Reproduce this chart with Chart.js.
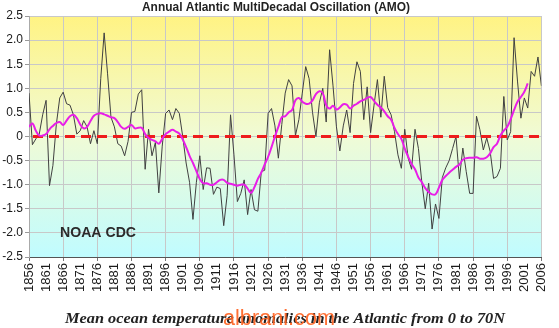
<!DOCTYPE html>
<html>
<head>
<meta charset="utf-8">
<title>AMO</title>
<script src="https://cdn.jsdelivr.net/npm/chart.js@4/dist/chart.umd.min.js"></script>
<style>
  html, body { margin: 0; padding: 0; background: #fff; }
  canvas { display: block; }
</style>
</head>
<body>
<canvas id="amo" width="559" height="328"></canvas>
<script>
// Années 1856 -> 2006, une valeur par an
var firstYear = 1856;
var lastYear  = 2006;

// Anomalie annuelle (ligne noire)
var annual = [
    0.9, -0.17, -0.05, 0.05, 0.45, 0.75, -1.02, -0.6, 0.25, 0.8,        // 1856
    0.92, 0.68, 0.65, 0.45, 0.05, 0.12, 0.33, 0.2, -0.15, 0.12,         // 1866
    -0.15, 1.2, 2.15, 1.3, 0.4, 0.2, -0.15, -0.2, -0.4, -0.1,           // 1876
    0.5, 0.52, 0.88, 0.97, -0.68, 0.15, -0.4, -0.12, -1.17, -0.2,       // 1886
    0.48, 0.55, 0.35, 0.58, 0.48, 0.0, -0.55, -0.95, -1.72, -0.95,      // 1896
    -0.4, -1.1, -0.65, -0.66, -1.2, -1.05, -1.08, -1.85, -1.22, 0.45,   // 1906
    -0.38, -1.35, -1.18, -0.9, -1.62, -1.1, -1.52, -1.55, -0.73, -0.7,  // 1916
    0.48, 0.58, 0.22, -0.45, 0.25, 0.9, 1.18, 1.05, 0.02, 0.35,         // 1926
    0.9, 1.45, 1.2, 0.5, 0.0, 0.7, 1.0, 0.3, 1.8, 1.05,                 // 1936
    0.2, -0.3, 0.22, 0.55, 0.08, 1.1, 1.55, 1.35, 0.35, 1.03,           // 1946
    0.08, 0.65, 1.18, 0.4, 1.25, 0.6, 0.45, 0.1, -0.38, -0.66,          // 1956
    0.15, -0.45, -0.68, 0.15, -0.25, -0.95, -1.5, -0.97, -1.92, -1.4,   // 1966
    -1.7, -0.85, -0.65, -0.5, -0.25, 0.0, -0.88, -0.24, -0.73, -1.18,   // 1976
    -1.18, 0.42, 0.14, -0.28, -0.03, -0.31, -0.87, -0.83, -0.66, 0.83,  // 1986
    -0.07, 0.1, 2.05, 1.15, 0.38, 0.8, 0.59, 1.35, 1.25, 1.65,          // 1996
    1.05                                                                // 2006
];

// Moyenne lissée (ligne magenta), s'arrête en 2002
var smoothed = [
    0.2, 0.27, 0.12, 0.02, 0.02, 0.05, 0.15, 0.22, 0.28, 0.3,
    0.24, 0.33, 0.42, 0.45, 0.38, 0.25, 0.17, 0.2, 0.32, 0.43,
    0.47, 0.48, 0.46, 0.43, 0.4, 0.38, 0.3, 0.2, 0.16, 0.2,
    0.24, 0.17, 0.18, 0.18, 0.05, -0.03, -0.07, -0.1, -0.15, -0.05,
    0.05, 0.1, 0.14, 0.1, 0.06, -0.06, -0.22, -0.4, -0.55, -0.72,
    -0.88, -0.97, -0.97, -1.0, -1.0, -0.95, -0.9, -0.9, -0.96, -0.98,
    -1.0, -1.02, -1.0, -1.0, -1.08, -1.17, -1.05, -0.88, -0.75, -0.58,
    -0.42, -0.22, 0.0, 0.2, 0.4, 0.42, 0.5, 0.55, 0.75, 0.8,
    0.72, 0.68, 0.68, 0.75, 0.88, 0.94, 0.9, 0.65, 0.58, 0.64,
    0.56, 0.6, 0.67, 0.66, 0.58, 0.64, 0.68, 0.73, 0.76, 0.8,
    0.82, 0.74, 0.66, 0.6, 0.52, 0.42, 0.35, 0.18, 0.05, -0.05,
    -0.25, -0.42, -0.57, -0.68, -0.85, -0.95, -1.07, -1.15, -1.2, -1.2,
    -1.06, -0.9, -0.82, -0.75, -0.69, -0.63, -0.58, -0.48, -0.45, -0.44,
    -0.44, -0.43, -0.46, -0.46, -0.43, -0.35, -0.22, -0.15, 0.02, 0.12,
    0.2, 0.36, 0.55, 0.72, 0.82, 0.93, 1.1, null, null, null,
    null
];

// Axe Y : -2.5 .. 2.5 par pas de 0.5 ; axe X : étiquettes tous les 5 ans
var yMin = -2.5, yMax = 2.5, yStep = 0.5;
var xLabelStep = 5, xGridStep = 10;

var titleText   = 'Annual Atlantic MultiDecadal Oscillation (AMO)';
var sourceText  = 'NOAA CDC';
var captionText = 'Mean ocean temperature anomalies in the Atlantic from 0 to 70N';
var watermark   = 'albrani.com';

function toPoints(values) {
    return values.map(function (v, i) { return { x: firstYear + i, y: v }; });
}

// Texte centré, étiré/compressé à une largeur donnée
function fitText(ctx, text, cx, baseline, width, font, color) {
    ctx.save();
    ctx.font = font;
    ctx.fillStyle = color;
    ctx.textBaseline = 'alphabetic';
    ctx.textAlign = 'left';
    var w = ctx.measureText(text).width;
    ctx.translate(cx - width / 2, baseline);
    ctx.scale(width / w, 1);
    ctx.fillText(text, 0, 0);
    ctx.restore();
}

var backgroundPlugin = {
    id: 'bg',
    beforeDraw: function (chart) {
        var ctx = chart.ctx, a = chart.chartArea;
        ctx.save();
        ctx.fillStyle = '#ffffff';
        ctx.fillRect(0, 0, chart.width, chart.height);
        var g = ctx.createLinearGradient(0, a.top, 0, a.bottom);
        g.addColorStop(0, '#fff383');
        g.addColorStop(0.5, '#f0fbd6');
        g.addColorStop(1, '#c0fcff');
        ctx.fillStyle = g;
        ctx.fillRect(a.left, a.top, a.right - a.left, a.bottom - a.top);
        ctx.restore();
    }
};

var textPlugin = {
    id: 'texts',
    afterDraw: function (chart) {
        var ctx = chart.ctx;
        fitText(ctx, titleText, 276, 11, 268, 'bold 12px "Liberation Sans", Arial', '#222222');
        fitText(ctx, sourceText, 98, 237, 76, 'bold 14px "Liberation Sans", Arial', '#2b2b2b');
        fitText(ctx, captionText, 285, 323, 440, 'bold italic 15px "Liberation Serif", serif', '#222222');
        fitText(ctx, watermark, 279, 325, 112, '22px "Liberation Sans", Arial', 'rgba(255, 96, 30, 0.9)');
    }
};

new Chart(document.getElementById('amo'), {
    type: 'line',
    data: {
        datasets: [
            {
                label: 'Lissé',
                data: toPoints(smoothed),
                borderColor: '#e81ee8',
                borderWidth: 2,
                pointRadius: 0,
                tension: 0.4,
                order: 1
            },
            {
                // Ligne de référence à 0
                label: 'Zéro',
                data: [{ x: firstYear, y: 0 }, { x: lastYear, y: 0 }],
                borderColor: '#ee1c1c',
                borderWidth: 3,
                borderDash: [10, 6],
                borderDashOffset: 12,
                pointRadius: 0,
                order: 2
            },
            {
                label: 'Annuel',
                data: toPoints(annual),
                borderColor: '#404040',
                borderWidth: 1,
                pointRadius: 0,
                tension: 0,
                order: 3
            }
        ]
    },
    options: {
        responsive: false,
        animation: false,
        layout: { padding: { top: 16, left: 0, right: 10, bottom: 31 } },
        plugins: {
            legend: { display: false },
            tooltip: { enabled: false },
            title: { display: false }
        },
        scales: {
            x: {
                type: 'linear',
                min: firstYear,
                max: lastYear,
                afterFit: function (s) { s.height = 40; },
                ticks: {
                    stepSize: xLabelStep,
                    autoSkip: false,
                    minRotation: 90,
                    maxRotation: 90,
                    padding: 2,
                    color: '#1a1a1a',
                    font: { family: '"Liberation Sans", Arial', size: 13 },
                    callback: function (v) { return String(v); }
                },
                grid: {
                    tickLength: 4,
                    color: function (c) {
                        return c.tick && (c.tick.value - firstYear) % xGridStep === 0 ? '#c8c8c8' : 'rgba(0,0,0,0)';
                    },
                    tickColor: function (c) {
                        return c.tick && (c.tick.value - firstYear) % xGridStep === 0 ? '#777777' : 'rgba(0,0,0,0)';
                    }
                },
                border: { color: '#555555', width: 1 }
            },
            y: {
                min: yMin,
                max: yMax,
                afterFit: function (s) { s.width = 29; },
                ticks: {
                    stepSize: yStep,
                    padding: 2,
                    color: '#1a1a1a',
                    font: { family: '"Liberation Sans", Arial', size: 12 }
                },
                grid: { color: '#c8c8c8', tickLength: 4, tickColor: '#999999' },
                border: { color: '#aaaaaa', width: 1 }
            }
        }
    },
    plugins: [backgroundPlugin, textPlugin]
});
</script>
</body>
</html>
